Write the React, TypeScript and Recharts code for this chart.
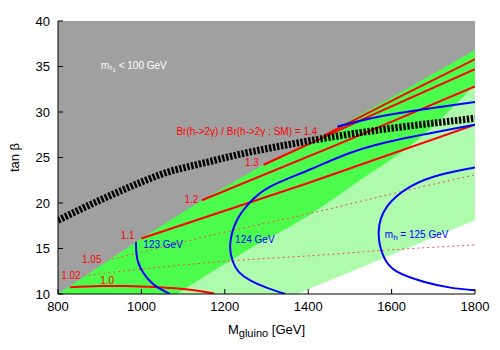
import React from "react";
import {
  ComposedChart,
  XAxis,
  YAxis,
  Area,
  Line,
  Scatter,
  Label,
} from "recharts";

const FONT = "'Liberation Sans', Arial, Helvetica, sans-serif";

const xTicks = [800, 1000, 1200, 1400, 1600, 1800];
const yTicks = [10, 15, 20, 25, 30, 35, 40];

const pts = (a: number[][]) => a.map(([x, y]) => ({ x, y }));

// region edges (M_gluino, tan beta)
const stauExcluded = pts([[800, 40], [1800, 40]]);
const allowedEdge = pts([
  [800, 10], [1000, 16.1], [1145, 20.3], [1293, 24.2], [1437, 27.5], [1600, 31.6], [1800, 36.8],
]);
const brightEdge = pts([
  [1085, 10], [1261, 15], [1400, 18.6], [1524, 22.5], [1661, 26.9], [1800, 33],
]);
const whiteEdge = pts([[1373, 10], [1800, 18.1]]);

// Br(h->2gamma) ratio contours
const br100 = pts([[829, 10.75], [900, 10.88], [960, 10.88], [1000, 10.82], [1100, 10.55], [1175, 10.05]]);
const br102 = pts([[861, 12.0], [973, 12.6], [1261, 13.8], [1405, 14.2], [1581, 14.8], [1800, 15.4]]);
const br105 = pts([[917, 13.7], [1000, 14.6], [1200, 16.8], [1400, 18.8], [1600, 21.0], [1800, 23.1]]);
const br110 = pts([[1000, 16.1], [1400, 22.2], [1800, 28.6]]);
const br120 = pts([[1145, 20.3], [1500, 27.0], [1800, 32.8]]);
const br130 = pts([[1293, 24.2], [1550, 29.6], [1800, 34.7]]);
const br140 = pts([[1437, 27.4], [1620, 31.7], [1800, 35.8]]);

// higgs mass contours
const mh123 = pts([[987, 15.7], [988, 14.5], [993, 13.4], [1005, 12.3], [1021, 11.4], [1040, 10.7], [1068, 10]]);
const mh123Top = pts([[1470, 28.4], [1560, 29.4], [1661, 30.2], [1800, 31.1]]);
const mh124 = pts([
  [1800, 28.6], [1620, 27.0], [1500, 25.5], [1400, 23.6], [1309, 21.8], [1261, 20.1], [1229, 18.1],
  [1213, 15.5], [1219, 13.6], [1234, 12.4], [1261, 11.5], [1300, 10.7], [1345, 10],
]);
const mh125 = pts([
  [1800, 23.9], [1717, 23.1], [1645, 21.8], [1589, 19.6], [1569, 16.8], [1581, 14.1], [1613, 12.45],
  [1677, 11.35], [1741, 10.7], [1800, 10.4],
]);

// stau mass bound
const stauLine = pts([
  [800, 18.1], [900, 20.3], [1000, 22.3], [1050, 23.2], [1150, 24.4], [1250, 25.5], [1350, 26.4],
  [1450, 27.2], [1550, 27.9], [1650, 28.5], [1800, 29.3],
]);

type Seg = [string, number];
const redLabels: { x: number; y: number; text: Seg[] }[] = [
  { x: 918, y: 11.5, text: [["1.0", 0]] },
  { x: 831, y: 12.1, text: [["1.02", 0]] },
  { x: 881, y: 13.9, text: [["1.05", 0]] },
  { x: 967, y: 16.5, text: [["1.1", 0]] },
  { x: 1120, y: 20.4, text: [["1.2", 0]] },
  { x: 1265, y: 24.5, text: [["1.3", 0]] },
  { x: 1253, y: 27.9, text: [["Br(h->2γ) / Br(h->2γ ; SM) = 1.4", 0]] },
];
const blueLabels: { x: number; y: number; text: Seg[] }[] = [
  { x: 1052, y: 15.45, text: [["123 GeV", 0]] },
  { x: 1272, y: 16.0, text: [["124 GeV", 0]] },
  { x: 1660, y: 16.55, text: [["m", 0], ["h", 1], [" = 125 GeV", 0]] },
];
const whiteLabels: { x: number; y: number; text: Seg[] }[] = [
  { x: 982, y: 35.2, text: [["m", 0], ["τ", 1], ["1", 2], [" < 100 GeV", 0]] },
];

const renderSegs = (segs: Seg[]) => {
  let level = 0;
  return segs.map(([t, l], i) => {
    const dy = (l - level) * 2.5;
    level = l;
    return (
      <tspan key={i} dy={dy} fontSize={l === 0 ? 10 : l === 1 ? 8 : 6}>
        {t}
      </tspan>
    );
  });
};

const textShape = (color: string) => (props: any) => (
  <text
    x={props.cx}
    y={props.cy}
    fill={color}
    fontFamily={FONT}
    fontSize={10}
    textAnchor="middle"
    dominantBaseline="central"
  >
    {renderSegs(props.payload.text)}
  </text>
);

const XTitle = (props: any) => {
  const vb = props.viewBox;
  return (
    <text x={vb.x + vb.width / 2} y={vb.y + 40} textAnchor="middle" fontFamily={FONT} fontSize={13} fill="#000">
      <tspan>M</tspan>
      <tspan dy={3} fontSize={11}>gluino</tspan>
      <tspan dy={-3}> [GeV]</tspan>
    </text>
  );
};

const YTitle = () => (
  <text
    x={14}
    y={157.5}
    transform="rotate(-90 14 157.5)"
    textAnchor="middle"
    dominantBaseline="central"
    fontFamily={FONT}
    fontSize={13}
    fill="#000"
  >
    tan β
  </text>
);

const noText = () => "";
const frame = { stroke: "#000" };

const lineProps = { dot: false, activeDot: false, isAnimationActive: false, dataKey: "y" } as const;

export default function App() {
  return (
    <div style={{ position: "absolute", left: 0, top: 0, background: "#fff" }}>
      <ComposedChart width={500} height={350} margin={{ top: 21, right: 25, bottom: 0, left: 0 }}>
        <Area data={stauExcluded} dataKey="y" type="linear" baseValue={10} fill="#a0a0a0" fillOpacity={1} stroke="none" isAnimationActive={false} />
        <Area data={allowedEdge} dataKey="y" type="linear" baseValue={10} fill="#4cfc4c" fillOpacity={1} stroke="none" isAnimationActive={false} />
        <Area data={brightEdge} dataKey="y" type="monotone" baseValue={10} fill="#aefbae" fillOpacity={1} stroke="none" isAnimationActive={false} />
        <Area data={whiteEdge} dataKey="y" type="linear" baseValue={10} fill="#ffffff" fillOpacity={1} stroke="none" isAnimationActive={false} />

        <Line {...lineProps} data={br102} type="monotone" stroke="#f05050" strokeWidth={1} strokeDasharray="2 3" />
        <Line {...lineProps} data={br105} type="monotone" stroke="#f05050" strokeWidth={1} strokeDasharray="2 3" />
        <Line {...lineProps} data={br100} type="natural" stroke="#ff0000" strokeWidth={2} />
        <Line {...lineProps} data={br110} type="natural" stroke="#ff0000" strokeWidth={2} />
        <Line {...lineProps} data={br120} type="natural" stroke="#ff0000" strokeWidth={2} />
        <Line {...lineProps} data={br130} type="natural" stroke="#ff0000" strokeWidth={2} />
        <Line {...lineProps} data={br140} type="natural" stroke="#ff0000" strokeWidth={2} />

        <Line {...lineProps} data={mh123} type="natural" stroke="#0000ff" strokeWidth={2} />
        <Line {...lineProps} data={mh123Top} type="natural" stroke="#0000ff" strokeWidth={2} />
        <Line {...lineProps} data={mh124} type="natural" stroke="#0000ff" strokeWidth={2} />
        <Line {...lineProps} data={mh125} type="natural" stroke="#0000ff" strokeWidth={2} />

        <Line {...lineProps} data={stauLine} type="monotone" stroke="#000" strokeWidth={7} strokeDasharray="2.4 1.6" />

        <Scatter data={redLabels} dataKey="y" shape={textShape("#ff0000")} isAnimationActive={false} />
        <Scatter data={blueLabels} dataKey="y" shape={textShape("#0000ff")} isAnimationActive={false} />
        <Scatter data={whiteLabels} dataKey="y" shape={textShape("#ffffff")} isAnimationActive={false} />

        <XAxis
          zIndex={2000}
          dataKey="x"
          type="number"
          domain={[800, 1800]}
          ticks={xTicks}
          interval={0}
          allowDataOverflow
          height={56}
          tickSize={-5}
          tickMargin={13}
          axisLine={frame}
          tickLine={frame}
          tick={{ fill: "#000", fontSize: 13, fontFamily: FONT }}
          label={<Label content={XTitle} />}
        />
        <XAxis zIndex={2000} xAxisId="top" orientation="top" dataKey="x" type="number" domain={[800, 1800]} ticks={xTicks}
          interval={0} height={0} tickSize={-5} tickFormatter={noText} axisLine={frame} tickLine={frame} />
        <YAxis
          zIndex={2000}
          type="number"
          domain={[10, 40]}
          ticks={yTicks}
          interval={0}
          allowDataOverflow
          width={58}
          tickSize={-5}
          tickMargin={13}
          axisLine={frame}
          tickLine={frame}
          tick={{ fill: "#000", fontSize: 13, fontFamily: FONT }}
          label={<Label content={YTitle} />}
        />
        <YAxis zIndex={2000} yAxisId="right" orientation="right" type="number" domain={[10, 40]} ticks={yTicks}
          interval={0} width={0} tickSize={-5} tickFormatter={noText} axisLine={frame} tickLine={frame} />
      </ComposedChart>
    </div>
  );
}
